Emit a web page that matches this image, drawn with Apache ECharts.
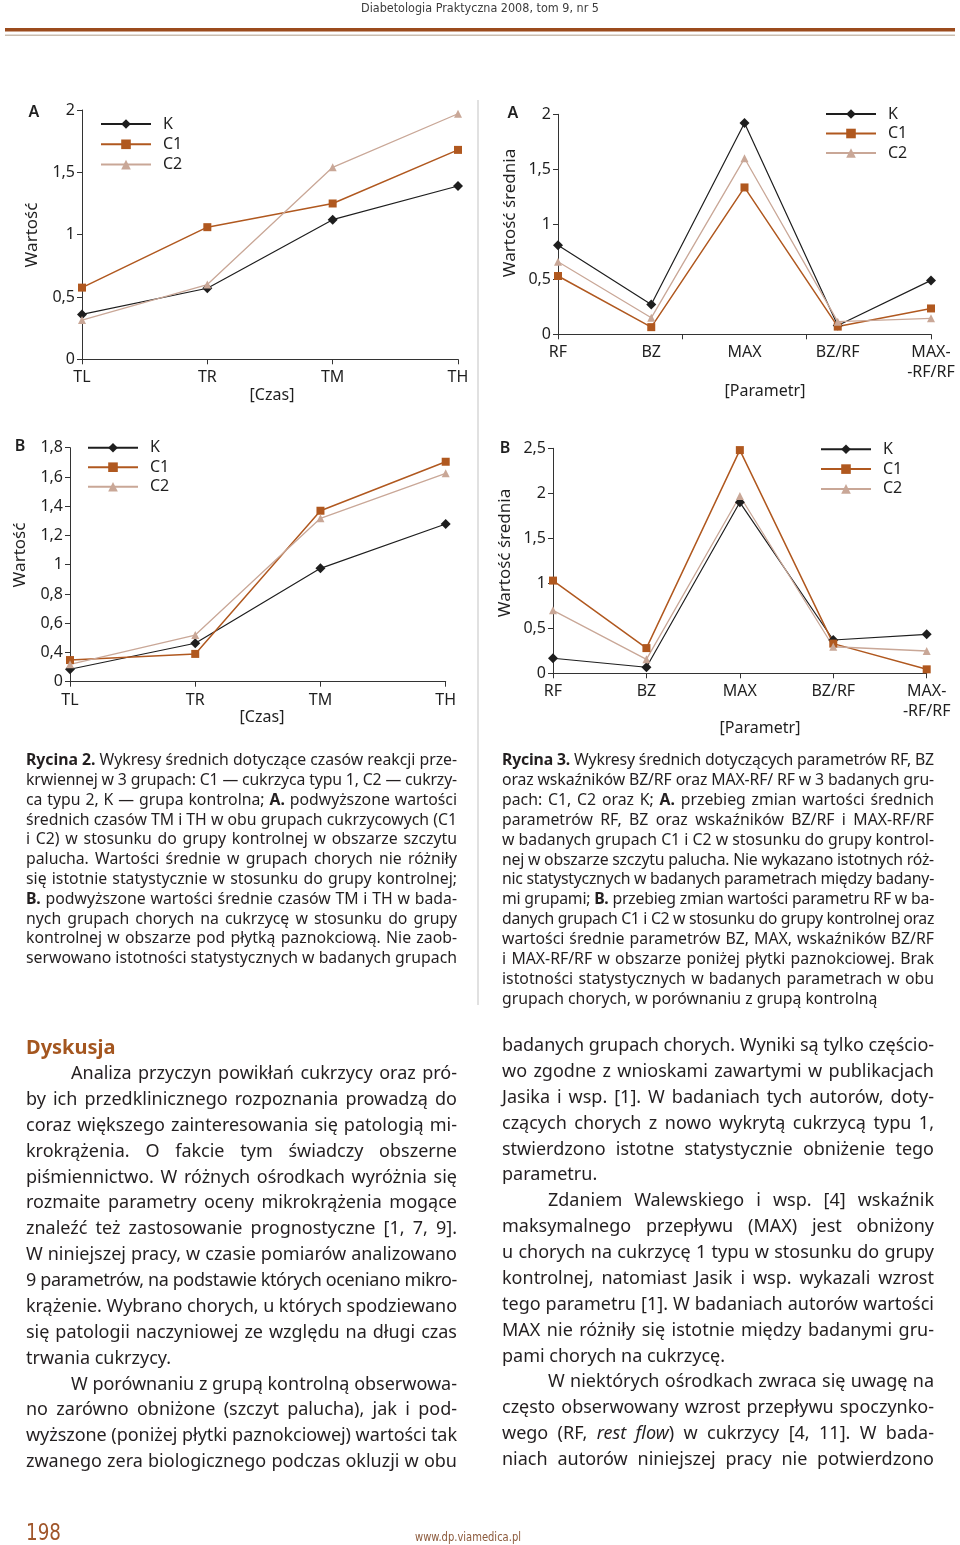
<!DOCTYPE html>
<html><head><meta charset="utf-8">
<script src="https://cdn.jsdelivr.net/npm/echarts/dist/echarts.min.js"></script>
<style>
html,body{margin:0;padding:0;background:#fff;}
#page{position:relative;width:960px;height:1545px;overflow:hidden;background:#fff;}
#chart{position:absolute;left:0;top:0;width:960px;height:1545px;}
#txt{position:absolute;left:0;top:0;width:960px;height:1545px;pointer-events:none;}
.ln{position:absolute;white-space:nowrap;font-family:"Noto Sans","Open Sans",sans-serif;color:#231f20;}
.ln b{font-weight:700;}
.cond{position:absolute;white-space:nowrap;font-family:"Liberation Sans Narrow","DejaVu Sans Condensed","Noto Sans",sans-serif;transform-origin:left center;}
</style></head>
<body><div id="page"><div id="chart"></div><div id="txt"></div></div>
<script>
// ---------- data ----------
const timeCats = ['TL', 'TR', 'TM', 'TH'];
const paramCats = ['RF', 'BZ', 'MAX', 'BZ/RF', 'MAX-\n-RF/RF'];
const seriesNames = ['K', 'C1', 'C2'];

// Rycina 2A
const kA1  = [0.36, 0.57, 1.12, 1.39];
const c1A1 = [0.575, 1.06, 1.25, 1.68];
const c2A1 = [0.315, 0.60, 1.54, 1.97];
// Rycina 3A
const kA2  = [0.81, 0.27, 1.92, 0.08, 0.49];
const c1A2 = [0.53, 0.065, 1.335, 0.07, 0.235];
const c2A2 = [0.66, 0.15, 1.60, 0.115, 0.145];
// Rycina 2B (axis starts at 0.2, labelled "0")
const kB1  = [0.285, 0.463, 0.975, 1.278];
const c1B1 = [0.348, 0.39, 1.369, 1.704];
const c2B1 = [0.319, 0.519, 1.317, 1.625];
// Rycina 3B
const kB2  = [0.167, 0.067, 1.90, 0.37, 0.433];
const c1B2 = [1.03, 0.28, 2.48, 0.33, 0.044];
const c2B2 = [0.70, 0.155, 1.97, 0.295, 0.248];

// tick labels
const yTicksA1 = ['0', '0,5', '1', '1,5', '2'];
const yTicksA2 = ['0', '0,5', '1', '1,5', '2'];
const yTicksB1 = ['0', '0,4', '0,6', '0,8', '1', '1,2', '1,4', '1,6', '1,8'];
const yTicksB2 = ['0', '0,5', '1', '1,5', '2', '2,5'];

// ---------- style ----------
const FONT = '"Noto Sans","Open Sans",sans-serif';
const COL = {K: '#1e1e1e', C1: '#b0581f', C2: '#c9a797'};
const LINEW = {K: 1.2, C1: 1.5, C2: 1.3};
const SYM = {K: 'diamond', C1: 'rect', C2: 'triangle'};
const SYMS = {K: 10, C1: 8, C2: 8};
const AXC = '#333';

function yAxis(gi, min, max, step, labels) {
  return {
    type: 'value', gridIndex: gi, min: min, max: max, interval: step,
    axisLine: {show: true, lineStyle: {color: AXC, width: 1}},
    axisTick: {show: true, length: 5, lineStyle: {color: AXC}},
    splitLine: {show: false},
    axisLabel: {margin: 7, color: '#1f1f1f', fontSize: 16, fontFamily: FONT,
      formatter: v => labels[Math.round((v - min) / step)]}
  };
}
function xCat(gi, cats, ticks) {
  return {
    type: 'category', gridIndex: gi, data: cats, boundaryGap: false,
    axisLine: {show: true, onZero: false, lineStyle: {color: AXC, width: 1}},
    axisTick: {show: ticks, length: 5, alignWithLabel: true, lineStyle: {color: AXC}},
    axisLabel: {margin: 8.5, color: '#1f1f1f', fontSize: 16, fontFamily: FONT, lineHeight: 20, interval: 0},
    splitLine: {show: false}
  };
}
function ser(name, xi, yi, data) {
  return {
    name: name, type: 'line', xAxisIndex: xi, yAxisIndex: yi, data: data,
    symbol: SYM[name], symbolSize: SYMS[name], showSymbol: true,
    lineStyle: {color: COL[name], width: LINEW[name]},
    itemStyle: {color: COL[name]}, emphasis: {disabled: true}
  };
}
function legend(left, top, gap) {
  return {
    left: left, top: top, orient: 'vertical', itemWidth: 50, itemHeight: 12, itemGap: gap,
    padding: 0, data: seriesNames, selectedMode: false,
    textStyle: {fontSize: 16, color: '#1f1f1f', fontFamily: FONT, lineHeight: 16, padding: [0, 0, 0, 7]}
  };
}
function gtext(text, x, y, opts) {
  opts = opts || {};
  return {
    type: 'text', x: x, y: y, rotation: opts.rot || 0, silent: true,
    style: {text: text, fill: opts.color || '#1f1f1f', fontSize: opts.size || 16,
      fontFamily: FONT, fontWeight: opts.weight || 'normal', align: 'center', verticalAlign: 'middle'}
  };
}

const option = {
  animation: false,
  backgroundColor: '#fff',
  grid: [
    {left: 82, top: 110, width: 376, height: 249.3},
    {left: 558, top: 114.3, width: 373, height: 220},
    {left: 70, top: 447.7, width: 375.7, height: 234},
    {left: 553, top: 448.3, width: 373.7, height: 225}
  ],
  xAxis: [
    xCat(0, timeCats, true),
    xCat(1, paramCats, false),
    {type: 'value', gridIndex: 1, min: 0, max: 3, interval: 1, position: 'bottom',
      axisLine: {show: false, onZero: false}, axisLabel: {show: false}, splitLine: {show: false},
      axisTick: {show: true, length: 5, lineStyle: {color: AXC}}},
    xCat(2, timeCats, true),
    xCat(3, paramCats, true)
  ],
  yAxis: [
    yAxis(0, 0, 2, 0.5, yTicksA1),
    yAxis(1, 0, 2, 0.5, yTicksA2),
    yAxis(2, 0.2, 1.8, 0.2, yTicksB1),
    yAxis(3, 0, 2.5, 0.5, yTicksB2)
  ],
  legend: [legend(100, 116, 4.3), legend(825, 106, 3.5), legend(87, 439.7, 3.5), legend(820, 441.3, 3.8)],
  series: [
    ser('K', 0, 0, kA1), ser('C1', 0, 0, c1A1), ser('C2', 0, 0, c2A1),
    ser('K', 1, 1, kA2), ser('C1', 1, 1, c1A2), ser('C2', 1, 1, c2A2),
    ser('K', 3, 2, kB1), ser('C1', 3, 2, c1B1), ser('C2', 3, 2, c2B1),
    ser('K', 4, 3, kB2), ser('C1', 4, 3, c1B2), ser('C2', 4, 3, c2B2)
  ],
  graphic: [
    {type: 'rect', silent: true, shape: {x: 5, y: 28, width: 950, height: 3.5}, style: {fill: '#9b4b1d'}},
    {type: 'rect', silent: true, shape: {x: 5, y: 34.5, width: 950, height: 1.5}, style: {fill: '#c9bcae'}},
    {type: 'rect', silent: true, shape: {x: 477.5, y: 100, width: 1, height: 905}, style: {fill: '#c4c4c4'}},
    gtext('A', 34, 112, {weight: 600}),
    gtext('A', 513, 113, {weight: 600}),
    gtext('B', 20, 446, {weight: 600}),
    gtext('B', 505, 448, {weight: 600}),
    gtext('Wartość', 32, 235, {rot: Math.PI / 2, size: 17}),
    gtext('Wartość średnia', 510, 213, {rot: Math.PI / 2, size: 17}),
    gtext('Wartość', 20, 555, {rot: Math.PI / 2, size: 17}),
    gtext('Wartość średnia', 505, 553, {rot: Math.PI / 2, size: 17}),
    gtext('[Czas]', 272, 395, {size: 16}),
    gtext('[Czas]', 262, 717, {size: 16}),
    gtext('[Parametr]', 765, 391, {size: 16}),
    gtext('[Parametr]', 760, 728, {size: 16})
  ]
};
const chart = echarts.init(document.getElementById('chart'), null, {renderer: 'canvas', width: 960, height: 1545});
chart.setOption(option);

// ---------- page text ----------
const capLeft = [
  '<b>Rycina 2.</b> Wykresy średnich dotyczące czasów reakcji prze-',
  'krwiennej w 3 grupach: C1 — cukrzyca typu 1, C2 — cukrzy-',
  'ca typu 2, K — grupa kontrolna; <b>A.</b> podwyższone wartości',
  'średnich czasów TM i TH w obu grupach cukrzycowych (C1',
  'i C2) w stosunku do grupy kontrolnej w obszarze szczytu',
  'palucha. Wartości średnie w grupach chorych nie różniły',
  'się istotnie statystycznie w stosunku do grupy kontrolnej;',
  '<b>B.</b> podwyższone wartości średnie czasów TM i TH w bada-',
  'nych grupach chorych na cukrzycę w stosunku do grupy',
  'kontrolnej w obszarze pod płytką paznokciową. Nie zaob-',
  'serwowano istotności statystycznych w badanych grupach'
];
const capRight = [
  '<b>Rycina 3.</b> Wykresy średnich dotyczących parametrów RF, BZ',
  'oraz wskaźników BZ/RF oraz MAX-RF/ RF w 3 badanych gru-',
  'pach: C1, C2 oraz K; <b>A.</b> przebieg zmian wartości średnich',
  'parametrów RF, BZ oraz wskaźników BZ/RF i MAX-RF/RF',
  'w badanych grupach C1 i C2 w stosunku do grupy kontrol-',
  'nej w obszarze szczytu palucha. Nie wykazano istotnych róż-',
  'nic statystycznych w badanych parametrach między badany-',
  'mi grupami; <b>B.</b> przebieg zmian wartości parametru RF w ba-',
  'danych grupach C1 i C2 w stosunku do grupy kontrolnej oraz',
  'wartości średnie parametrów BZ, MAX, wskaźników BZ/RF',
  'i MAX-RF/RF w obszarze poniżej płytki paznokciowej. Brak',
  'istotności statystycznych w badanych parametrach w obu',
  'grupach chorych, w porównaniu z grupą kontrolną|'
];
const bodyLeft = [
  '>Analiza przyczyn powikłań cukrzycy oraz pró-',
  'by ich przedklinicznego rozpoznania prowadzą do',
  'coraz większego zainteresowania się patologią mi-',
  'krokrążenia. O fakcie tym świadczy obszerne',
  'piśmiennictwo. W różnych ośrodkach wyróżnia się',
  'rozmaite parametry oceny mikrokrążenia mogące',
  'znaleźć też zastosowanie prognostyczne [1, 7, 9].',
  'W niniejszej pracy, w czasie pomiarów analizowano',
  '9 parametrów, na podstawie których oceniano mikro-',
  'krążenie. Wybrano chorych, u których spodziewano',
  'się patologii naczyniowej ze względu na długi czas',
  'trwania cukrzycy.|',
  '>W porównaniu z grupą kontrolną obserwowa-',
  'no zarówno obniżone (szczyt palucha), jak i pod-',
  'wyższone (poniżej płytki paznokciowej) wartości tak',
  'zwanego zera biologicznego podczas okluzji w obu'
];
const bodyRight = [
  'badanych grupach chorych. Wyniki są tylko częścio-',
  'wo zgodne z wnioskami zawartymi w publikacjach',
  'Jasika i wsp. [1]. W badaniach tych autorów, doty-',
  'czących chorych z nowo wykrytą cukrzycą typu 1,',
  'stwierdzono istotne statystycznie obniżenie tego',
  'parametru.|',
  '>Zdaniem Walewskiego i wsp. [4] wskaźnik',
  'maksymalnego przepływu (MAX) jest obniżony',
  'u chorych na cukrzycę 1 typu w stosunku do grupy',
  'kontrolnej, natomiast Jasik i wsp. wykazali wzrost',
  'tego parametru [1]. W badaniach autorów wartości',
  'MAX nie różniły się istotnie między badanymi gru-',
  'pami chorych na cukrzycę.|',
  '>W niektórych ośrodkach zwraca się uwagę na',
  'często obserwowany wzrost przepływu spoczynko-',
  'wego (RF, <i>rest flow</i>) w cukrzycy [4, 11]. W bada-',
  'niach autorów niniejszej pracy nie potwierdzono'
];

const layer = document.getElementById('txt');
function placeLines(lines, x0, y0, lh, width, fs, indent) {
  lines.forEach((raw, i) => {
    let t = raw, ind = 0, just = true;
    if (t.startsWith('>')) { t = t.slice(1); ind = indent; }
    if (t.endsWith('|')) { t = t.slice(0, -1); just = false; }
    const d = document.createElement('div');
    d.className = 'ln';
    d.style.left = (x0 + ind) + 'px';
    d.style.top = (y0 + i * lh - lh / 2) + 'px';
    d.style.lineHeight = lh + 'px';
    d.style.fontSize = fs + 'px';
    const s = document.createElement('span');
    s.innerHTML = t;
    d.appendChild(s);
    layer.appendChild(d);
    const w = width - ind;
    const nat = s.getBoundingClientRect().width;
    const txt = s.textContent;
    const spaces = (txt.match(/ /g) || []).length;
    if (nat > w) {
      s.style.letterSpacing = ((w - nat) / txt.length) + 'px';
    } else if (just && spaces) {
      s.style.wordSpacing = ((w - nat) / spaces) + 'px';
    }
  });
}
placeLines(capLeft, 26, 760, 19.8, 431, 15.8, 0);
placeLines(capRight, 502, 760, 19.9, 432, 15.8, 0);
placeLines(bodyLeft, 26, 1073, 25.87, 431, 18, 45);
placeLines(bodyRight, 502, 1045, 25.87, 432, 18, 46);

// heading
(function () {
  const d = document.createElement('div');
  d.className = 'ln';
  d.style.left = '26px'; d.style.top = (1047 - 14) + 'px'; d.style.lineHeight = '28px';
  d.style.fontSize = '20px'; d.style.fontWeight = '700'; d.style.color = '#a4561f';
  d.textContent = 'Dyskusja';
  layer.appendChild(d);
})();

// condensed texts (header/footer) fitted to width
function condText(text, cx, cy, width, fs, color, alignLeft) {
  const d = document.createElement('div');
  d.className = 'cond';
  d.style.fontSize = fs + 'px'; d.style.color = color; d.style.lineHeight = (fs * 1.3) + 'px';
  d.textContent = text;
  layer.appendChild(d);
  const r = d.getBoundingClientRect();
  const sc = width / r.width;
  const left = alignLeft ? cx : cx - width / 2;
  d.style.left = left + 'px';
  d.style.top = (cy - r.height / 2) + 'px';
  d.style.transform = 'scaleX(' + sc + ')';
}
condText('Diabetologia Praktyczna 2008, tom 9, nr 5', 480, 8, 238, 13, '#3c3c3c', false);
condText('198', 26, 1533, 35, 23, '#a0562a', true);
condText('www.dp.viamedica.pl', 468, 1537, 106, 13, '#8c5a3c', false);
</script>
</body></html>
